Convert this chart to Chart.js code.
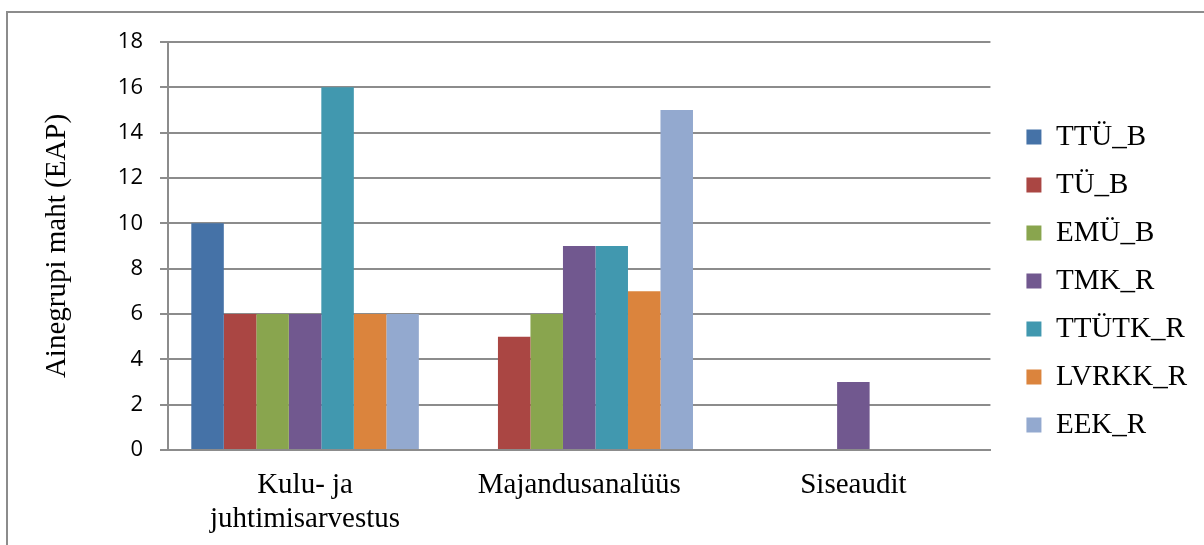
<!DOCTYPE html>
<html>
<head>
<meta charset="utf-8">
<script src="https://cdn.jsdelivr.net/npm/chart.js@4/dist/chart.umd.min.js"></script>
<style>
  html, body { margin: 0; padding: 0; background: #fff; overflow: hidden; }
  #frame {
    position: absolute; left: 6px; top: 11px; width: 1300px; height: 600px;
    border-left: 2px solid #8c8c8c; border-top: 2px solid #8c8c8c;
  }
  #wrap { position: absolute; left: 0; top: 0; width: 1204px; height: 545px; }
</style>
</head>
<body>
<div id="frame"></div>
<div id="wrap"><canvas id="chart"></canvas></div>
<script>
// Õppekavade ainegruppide maht (EAP)
const categories = [['Kulu- ja', 'juhtimisarvestus'], 'Majandusanalüüs', 'Siseaudit'];

const ttuB   = [10, null, null];
const tuB    = [6, 5, null];
const emuB   = [6, 6, null];
const tmkR   = [6, 9, 3];
const ttutkR = [16, 9, null];
const lvrkkR = [6, 7, null];
const eekR   = [6, 15, null];

const seriesNames  = ['TTÜ_B', 'TÜ_B', 'EMÜ_B', 'TMK_R', 'TTÜTK_R', 'LVRKK_R', 'EEK_R'];
const seriesValues = [ttuB, tuB, emuB, tmkR, ttutkR, lvrkkR, eekR];
const colors = ['#4572A7', '#AA4643', '#89A54E', '#71588F', '#4198AF', '#DB843D', '#93A9CF'];

const yMin = 0, yMax = 18, yStep = 2;

const serif = '"Liberation Serif", "Times New Roman", serif';
const sans = '"Open Sans", sans-serif';
const gridColor = '#8c8c8c';

const datasets = seriesNames.map((name, i) => ({
  label: name,
  data: seriesValues[i],
  backgroundColor: colors[i],
  borderWidth: 0,
  barPercentage: 1,
  categoryPercentage: 0.83
}));

// empty scale used only to reserve space in the layout
const spacer = (position, size) => ({
  type: 'linear',
  position,
  display: true,
  grid: { display: false, drawTicks: false },
  border: { display: false },
  ticks: { display: false },
  afterFit(scale) {
    if (scale.isHorizontal()) scale.height = size; else scale.width = size;
  }
});

new Chart(document.getElementById('chart').getContext('2d'), {
  type: 'bar',
  data: { labels: categories, datasets },
  options: {
    responsive: true,
    maintainAspectRatio: false,
    animation: false,
    layout: { padding: { left: 36, top: 17, right: 7, bottom: 0 } },
    plugins: {
      tooltip: { enabled: false },
      legend: {
        position: 'right',
        align: 'center',
        labels: {
          boxWidth: 15,
          boxHeight: 15,
          padding: 19,
          color: '#000',
          font: { family: serif, size: 29 }
        }
      }
    },
    scales: {
      x: {
        grid: { display: false, drawTicks: false },
        border: { display: true, color: gridColor, width: 2 },
        ticks: {
          color: '#000',
          padding: 18,
          maxRotation: 0,
          font: { family: serif, size: 29, lineHeight: 1.17 }
        },
        afterFit(scale) { scale.height = 95; }
      },
      y: {
        min: yMin,
        max: yMax,
        grid: { color: gridColor, lineWidth: 2, tickLength: 8 },
        border: { color: gridColor, width: 2 },
        ticks: {
          stepSize: yStep,
          color: '#000',
          padding: 17,
          font: { family: sans, size: 22 }
        },
        title: {
          display: true,
          text: 'Ainegrupi maht (EAP)',
          color: '#000',
          padding: 4,
          font: { family: serif, size: 29, lineHeight: 1.2 }
        },
        afterFit(scale) { scale.width = 132; }
      },
      gapTop: { ...spacer('top', 25), axis: 'x' },
      gapRight: { ...spacer('right', 17), axis: 'y' }
    }
  }
});
</script>
</body>
</html>
